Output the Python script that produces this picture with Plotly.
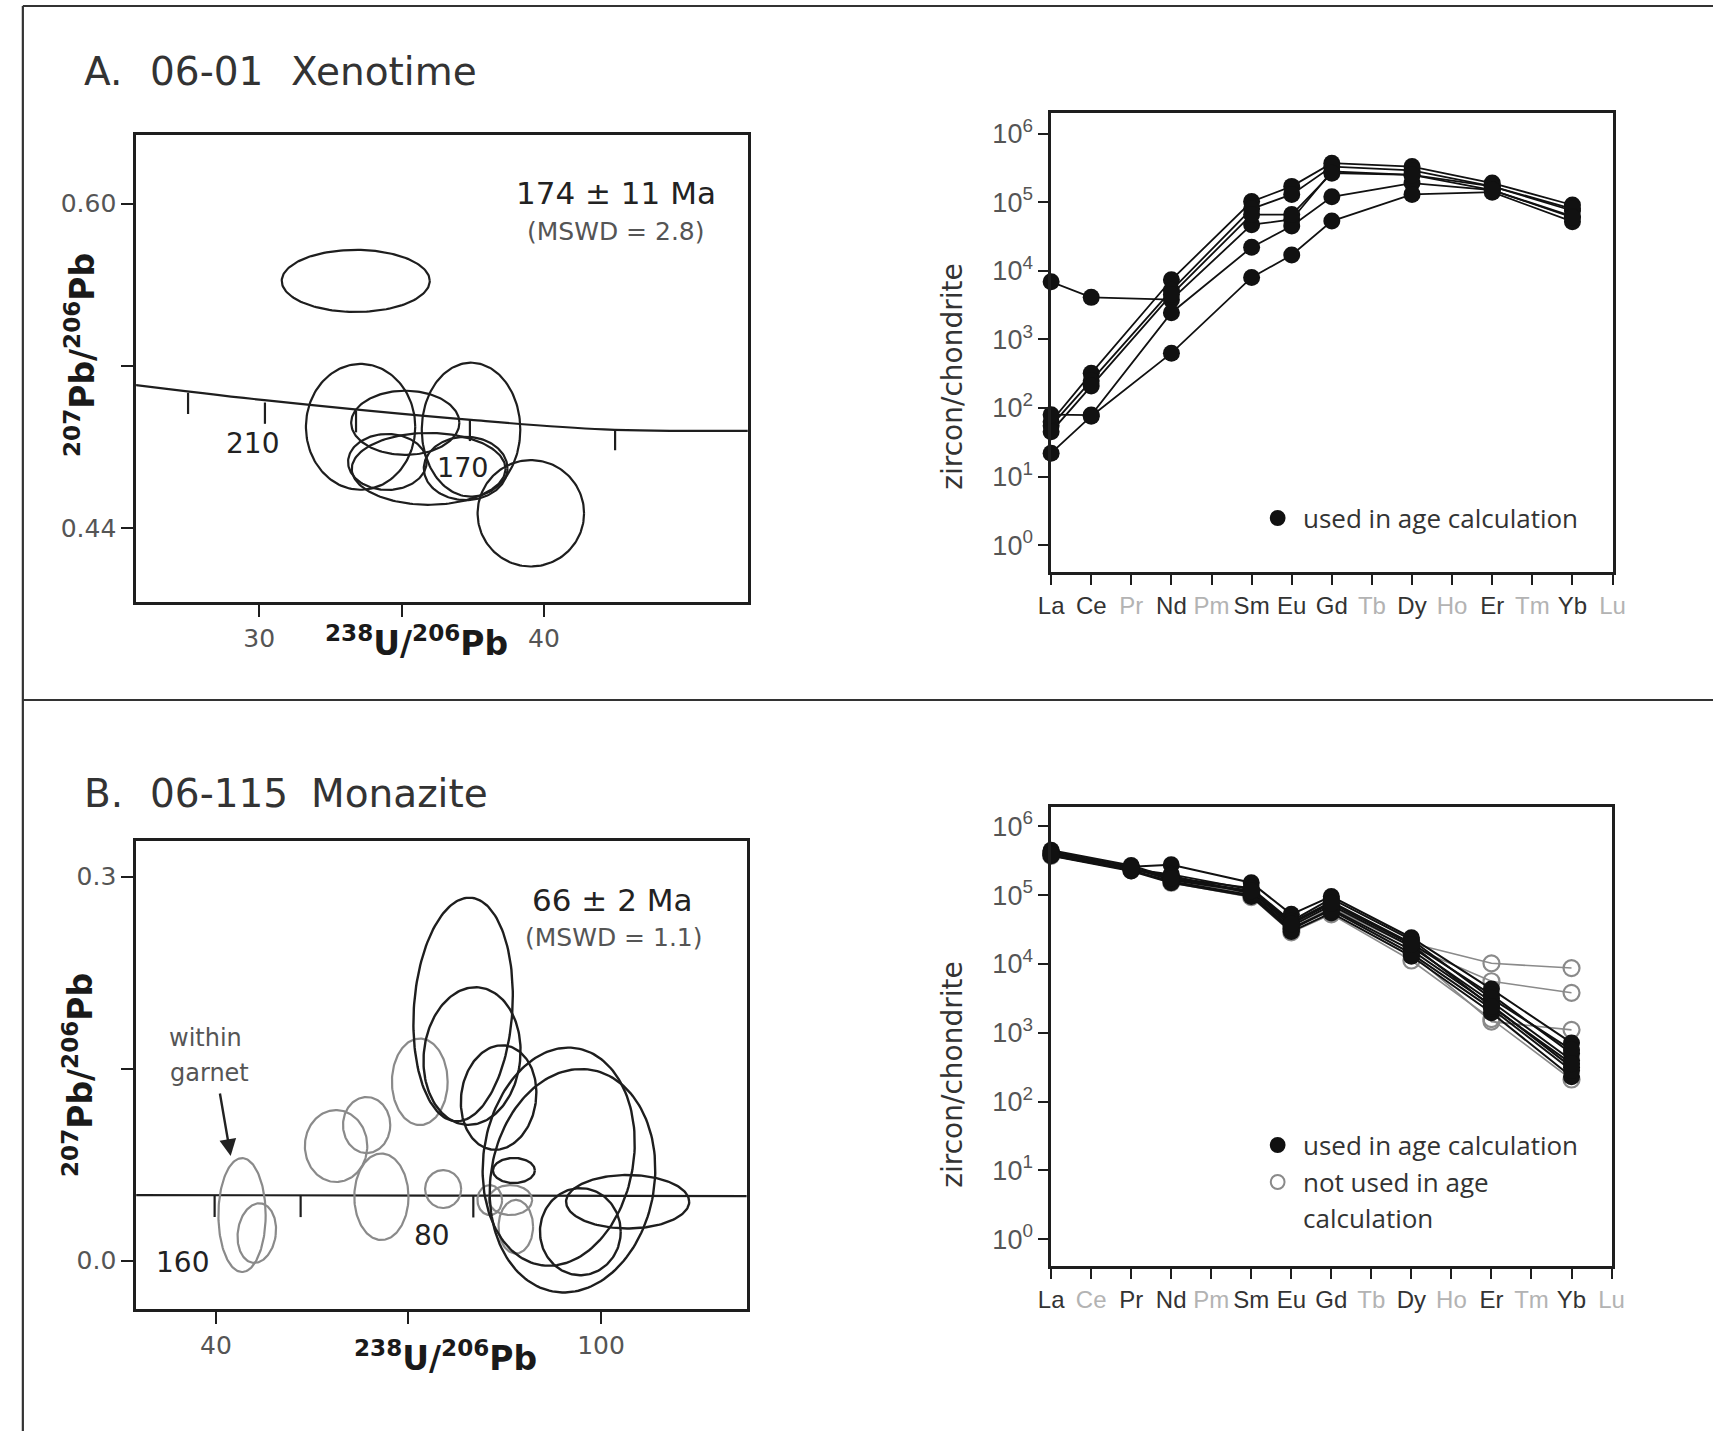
import numpy as np
import plotly.graph_objects as go

W, H = 1726, 1431

# ------------------------------------------------------------------ data
# Panel A: 06-01 xenotime, Tera-Wasserburg diagram
a_curve_x = [25.67, 30.35, 37.44, 42.11, 47.2]
a_curve_y = [0.5106, 0.5029, 0.4934, 0.4888, 0.4880]
a_tick_ages = [230, 210, 190, 170, 150]
a_tick_x = [27.5, 30.2, 33.4, 37.4, 42.5]
a_tick_y = [0.5068, 0.5020, 0.4978, 0.4935, 0.4890]

a_ell_cx = [33.39, 33.56, 35.13, 37.44, 34.50, 35.95, 37.25, 39.54]
a_ell_cy = [0.5619, 0.4900, 0.4920, 0.4886, 0.4727, 0.4693, 0.4695, 0.4474]
a_ell_rx = [2.60, 1.92, 1.90, 1.73, 1.38, 2.70, 1.47, 1.87]
a_ell_ry = [0.0153, 0.0310, 0.0158, 0.0330, 0.0138, 0.0177, 0.0156, 0.0262]
a_ell_ang = [0, 0, 0, 0, 0, 0, 0, 0]

# Panel B: 06-115 monazite
b_curve_x = [27.57, 75.0, 122.7]
b_curve_y = [0.0513, 0.0509, 0.0505]
b_tick_ages = [160, 120, 80]
b_tick_x = [39.8, 53.2, 80.1]
b_tick_y = [0.0512, 0.0511, 0.0508]

# grey = not used in age calculation
b_grey_cx = [44.07, 46.37, 58.72, 63.48, 65.78, 71.76, 75.40, 82.66, 86.72, 85.88]
b_grey_cy = [0.0357, 0.0216, 0.0896, 0.1060, 0.0500, 0.1398, 0.0560, 0.0474, 0.0266, 0.0474]
b_grey_rx = [3.68, 2.96, 4.86, 3.68, 4.22, 4.34, 2.81, 1.92, 2.69, 3.38]
b_grey_ry = [0.0445, 0.0234, 0.0281, 0.0219, 0.0338, 0.0338, 0.0148, 0.0117, 0.0209, 0.0117]
b_grey_ang = [0, -8, 0, 0, 0, 0, 0, 0, 0, 0]
# black = used in age calculation
b_used_cx = [78.51, 79.90, 84.04, 86.42, 93.40, 95.55, 96.77, 104.14]
b_used_cy = [0.1963, 0.1599, 0.1275, 0.0705, 0.0813, 0.0625, 0.0227, 0.0461]
b_used_rx = [7.67, 7.52, 5.83, 3.27, 11.66, 12.74, 6.29, 9.59]
b_used_ry = [0.0875, 0.0539, 0.0410, 0.0098, 0.0859, 0.0879, 0.0340, 0.0209]
b_used_ang = [-4, -6, -8, 0, -10, -10, 0, 0]

# REE patterns (zircon/chondrite)
ree_labels = ['La', 'Ce', 'Pr', 'Nd', 'Pm', 'Sm', 'Eu', 'Gd', 'Tb', 'Dy', 'Ho', 'Er', 'Tm', 'Yb', 'Lu']

a_elems = ['La', 'Ce', 'Nd', 'Sm', 'Eu', 'Gd', 'Dy', 'Er', 'Yb']
a_s1 = [6900, 4100, 3800, 47000, 56000, 280000, 250000, 170000, 75000]
a_s2 = [63, 320, 7400, 102000, 170000, 370000, 330000, 190000, 91000]
a_s3 = [55, 250, 5200, 80000, 130000, 330000, 290000, 170000, 80000]
a_s4 = [80, 79, 2450, 22000, 45000, 120000, 190000, 150000, 62000]
a_s5 = [22, 76, 630, 8000, 17000, 53000, 130000, 140000, 52000]
a_s6 = [45, 210, 4500, 66000, 66000, 265000, 250000, 150000, 60000]

b_elems = ['La', 'Pr', 'Nd', 'Sm', 'Eu', 'Gd', 'Dy', 'Er', 'Yb']
b_u1 = [430000, 257000, 275000, 151000, 52500, 95500, 24000, 4300, 710]
b_u2 = [398000, 240000, 200000, 120000, 39800, 79400, 20000, 3550, 500]
b_u3 = [380000, 229000, 158000, 100000, 31600, 63100, 15800, 2510, 316]
b_u4 = [417000, 251000, 166000, 112000, 35500, 70800, 17800, 2820, 398]
b_u5 = [372000, 224000, 151000, 95500, 29500, 55000, 12900, 1950, 229]
b_u6 = [447000, 269000, 178000, 126000, 41700, 89100, 22400, 3160, 562]
b_u7 = [398000, 234000, 191000, 105000, 33100, 60300, 14100, 2240, 282]
b_u8 = [389000, 245000, 174000, 115000, 38000, 75900, 19100, 2400, 355]
b_n1 = [398000, 240000, 178000, 112000, 35500, 70800, 20000, 10200, 8700]
b_n2 = [380000, 234000, 166000, 105000, 33100, 66100, 17800, 5600, 3800]
b_n3 = [407000, 245000, 158000, 100000, 31600, 60300, 14100, 1450, 1100]
b_n4 = [372000, 229000, 151000, 93300, 28800, 52500, 11200, 1580, 209]

# ------------------------------------------------------------------ layout helpers
def px(x):
    return x / W


def py(y):
    return 1 - y / H


def dom_x(b):
    return [b[0] / W, b[2] / W]


def dom_y(b):
    return [1 - b[3] / H, 1 - b[1] / H]


boxA = (125, 135, 746, 602)
boxB = (125, 841, 745, 1309)
boxAr = (1054, 113, 1624, 572)
boxBr = (1054, 807, 1623, 1266)

rA_x, rA_y = [25.675, 47.16], [0.4037, 0.6338]
rB_x, rB_y = [27.57, 122.7], [-0.0377, 0.3279]

INK = '#1e1e1e'
GREY = '#8a8a8a'
DJ = 'DejaVu Sans'
AR = 'Liberation Sans'
OS = 'Open Sans'

fig = go.Figure()


def ellipse(cx, cy, rx, ry, ang, kx, ky, n=160):
    t = np.linspace(0, 2 * np.pi, n)
    u = rx * kx * np.cos(t)
    v = ry * ky * np.sin(t)
    a = np.deg2rad(ang)
    return cx + (u * np.cos(a) - v * np.sin(a)) / kx, cy + (u * np.sin(a) + v * np.cos(a)) / ky


def add_ellipses(cxs, cys, rxs, rys, angs, box, rx_, ry_, xa, ya, color, width):
    kx = (box[2] - box[0]) / (rx_[1] - rx_[0])
    ky = (box[3] - box[1]) / (ry_[1] - ry_[0])
    xs, ys = [], []
    for cx, cy, a, b, g in zip(cxs, cys, rxs, rys, angs):
        ex, ey = ellipse(cx, cy, a, b, g, kx, ky)
        xs += list(ex) + [None]
        ys += list(ey) + [None]
    fig.add_trace(go.Scatter(x=xs, y=ys, mode='lines', xaxis=xa, yaxis=ya,
                             line=dict(color=color, width=width), hoverinfo='skip',
                             showlegend=False))


def add_curve(cx, cy, tx, ty, tlen, xa, ya):
    fig.add_trace(go.Scatter(x=cx, y=cy, mode='lines', xaxis=xa, yaxis=ya,
                             line=dict(color=INK, width=2.2, shape='spline'),
                             hoverinfo='skip', showlegend=False))
    xs, ys = [], []
    for x, y in zip(tx, ty):
        xs += [x, x, None]
        ys += [y, y - tlen, None]
    fig.add_trace(go.Scatter(x=xs, y=ys, mode='lines', xaxis=xa, yaxis=ya,
                             line=dict(color=INK, width=2.2), hoverinfo='skip',
                             showlegend=False))


# Panel A concordia
add_curve(a_curve_x, a_curve_y, a_tick_x, a_tick_y, 0.0105, 'x', 'y')
add_ellipses(a_ell_cx, a_ell_cy, a_ell_rx, a_ell_ry, a_ell_ang, boxA, rA_x, rA_y,
             'x', 'y', INK, 2.2)

# Panel B concordia
add_curve(b_curve_x, b_curve_y, b_tick_x, b_tick_y, 0.017, 'x3', 'y3')
add_ellipses(b_grey_cx, b_grey_cy, b_grey_rx, b_grey_ry, b_grey_ang, boxB, rB_x, rB_y,
             'x3', 'y3', GREY, 2.2)
add_ellipses(b_used_cx, b_used_cy, b_used_rx, b_used_ry, b_used_ang, boxB, rB_x, rB_y,
             'x3', 'y3', INK, 2.4)

# REE patterns
def idx(elems):
    return [ree_labels.index(e) for e in elems]


for s in [a_s1, a_s2, a_s3, a_s4, a_s5, a_s6]:
    fig.add_trace(go.Scatter(x=idx(a_elems), y=s, mode='lines+markers', xaxis='x2', yaxis='y2',
                             line=dict(color='#111', width=1.8),
                             marker=dict(size=17, color='#111'), cliponaxis=False,
                             hoverinfo='skip', showlegend=False))

for s in [b_n1, b_n2, b_n3, b_n4]:
    fig.add_trace(go.Scatter(x=idx(b_elems), y=s, mode='lines+markers', xaxis='x4', yaxis='y4',
                             line=dict(color=GREY, width=1.6),
                             marker=dict(size=16, symbol='circle-open', color=GREY,
                                         line=dict(width=2.2, color=GREY)),
                             cliponaxis=False, hoverinfo='skip', showlegend=False))
for s in [b_u1, b_u2, b_u3, b_u4, b_u5, b_u6, b_u7, b_u8]:
    fig.add_trace(go.Scatter(x=idx(b_elems), y=s, mode='lines+markers', xaxis='x4', yaxis='y4',
                             line=dict(color='#111', width=2.0),
                             marker=dict(size=17, color='#111'), cliponaxis=False,
                             hoverinfo='skip', showlegend=False))

# ------------------------------------------------------------------ axes
axline = dict(showline=True, mirror=True, linecolor=INK, linewidth=2.6,
              ticks='outside', ticklen=12, tickwidth=2.4, tickcolor=INK,
              showgrid=False, zeroline=False, fixedrange=True)

conc_font = dict(family=DJ, size=25, color='#555')


def ree_ticktext(present):
    out = []
    for lab in ree_labels:
        if lab in present:
            out.append(lab)
        else:
            out.append("<span style='color:#b3b3b3'>%s</span>" % lab)
    return out


ree_y_vals = [1, 10, 100, 1000, 10000, 100000, 1000000]
ree_y_text = ['10<sup>%d</sup>' % i for i in range(7)]

fig.update_layout(
    width=W, height=H, margin=dict(l=0, r=0, t=0, b=0),
    paper_bgcolor='white', plot_bgcolor='white', showlegend=False,
    xaxis=dict(axline, domain=dom_x(boxA), range=rA_x, anchor='y',
               tickvals=[30, 35, 40], ticktext=['30', ' ', '40'], tickfont=conc_font),
    yaxis=dict(axline, domain=dom_y(boxA), range=rA_y, anchor='x',
               tickvals=[0.44, 0.52, 0.60], ticktext=['0.44', ' ', '0.60'], tickfont=conc_font),
    xaxis3=dict(axline, domain=dom_x(boxB), range=rB_x, anchor='y3',
                tickvals=[40, 70, 100], ticktext=['40', ' ', '100'], tickfont=conc_font),
    yaxis3=dict(axline, domain=dom_y(boxB), range=rB_y, anchor='x3',
                tickvals=[0.0, 0.15, 0.3], ticktext=['0.0', ' ', '0.3'], tickfont=conc_font),
    xaxis2=dict(axline, domain=dom_x(boxAr), range=[0, 14], anchor='y2', ticklen=10,
                tickvals=list(range(15)), ticktext=ree_ticktext(a_elems),
                tickfont=dict(family=AR, size=24, color='#333')),
    yaxis2=dict(axline, domain=dom_y(boxAr), type='log', range=[-0.39, 6.30], anchor='x2',
                ticklen=10, tickvals=ree_y_vals, ticktext=ree_y_text,
                tickfont=dict(family=AR, size=27, color='#555')),
    xaxis4=dict(axline, domain=dom_x(boxBr), range=[0, 14], anchor='y4', ticklen=10,
                tickvals=list(range(15)), ticktext=ree_ticktext(b_elems),
                tickfont=dict(family=AR, size=24, color='#333')),
    yaxis4=dict(axline, domain=dom_y(boxBr), type='log', range=[-0.39, 6.28], anchor='x4',
                ticklen=10, tickvals=ree_y_vals, ticktext=ree_y_text,
                tickfont=dict(family=AR, size=27, color='#555')),
)

# ------------------------------------------------------------------ text
ann = []


def text(x, y, s, size, color='#222', family=DJ, xanchor='center', angle=0):
    ann.append(dict(x=px(x), y=py(y), xref='paper', yref='paper', text=s, showarrow=False,
                    xanchor=xanchor, yanchor='middle', textangle=angle,
                    font=dict(family=family, size=size, color=color)))


# panel titles
text(70, 72, 'A.', 39, '#333', xanchor='left')
text(137, 72, '06-01', 39, '#333', xanchor='left')
text(280, 72, 'Xenotime', 39, '#333', xanchor='left')
text(70, 793, 'B.', 39, '#333', xanchor='left')
text(137, 793, '06-115', 39, '#333', xanchor='left')
text(301, 793, 'Monazite', 39, '#333', xanchor='left')

# axis titles (concordia)
xt = '<b><sup>238</sup>U/<sup>206</sup>Pb</b>'
yt = '<b><sup>207</sup>Pb/<sup>206</sup>Pb</b>'
text(410, 641, xt, 33, '#1a1a1a')
text(439, 1356, xt, 33, '#1a1a1a')
text(68, 355, yt, 33, '#1a1a1a', angle=-90)
text(66, 1075, yt, 33, '#1a1a1a', angle=-90)

# ages
text(612, 193, '174 ± 11 Ma', 31, '#222')
text(612, 232, '(MSWD = 2.8)', 25, '#555')
text(608, 900, '66 ± 2 Ma', 31, '#222')
text(610, 937, '(MSWD = 1.1)', 25, '#555')

# concordia age labels
text(243, 443, str(a_tick_ages[1]), 28, '#222')
text(457, 468, str(a_tick_ages[3]), 27, '#222')
text(172, 1262, str(b_tick_ages[0]), 28, '#222')
text(425, 1235, str(b_tick_ages[2]), 28, '#222')

# within garnet
text(195, 1038, 'within', 24, '#555')
text(200, 1073, 'garnet', 24, '#555')
ann.append(dict(x=px(221), y=py(1156), xref='paper', yref='paper', text='',
                showarrow=True, ax=-11, ay=-64, axref='pixel', ayref='pixel',
                arrowhead=2, arrowsize=1.4, arrowwidth=2.4, arrowcolor='#222'))

# REE y titles
text(953, 377, 'zircon/chondrite', 28, '#333', angle=-90)
text(953, 1075, 'zircon/chondrite', 28, '#333', angle=-90)

# REE legends
text(1308, 518, 'used in age calculation', 26, '#333', family=OS, xanchor='left')
text(1308, 1145, 'used in age calculation', 26, '#333', family=OS, xanchor='left')
text(1308, 1182, 'not used in age', 26, '#333', family=OS, xanchor='left')
text(1308, 1218, 'calculation', 26, '#333', family=OS, xanchor='left')

fig.update_layout(annotations=ann)

shapes = []


def circ(cx, cy, r, fill, line):
    shapes.append(dict(type='circle', xref='paper', yref='paper',
                       x0=px(cx - r), x1=px(cx + r), y0=py(cy + r), y1=py(cy - r),
                       fillcolor=fill, line=dict(color=line, width=2)))


circ(1284, 518, 7, '#111', '#111')
circ(1284, 1145, 7, '#111', '#111')
circ(1284, 1182, 7, 'white', GREY)

# outer frame and divider
for (x0, y0, x1, y1) in [(10, 6, W, 6), (10, 6, 10, H), (10, 700, W, 700)]:
    shapes.append(dict(type='line', xref='paper', yref='paper',
                       x0=px(x0), y0=py(y0), x1=px(x1), y1=py(y1),
                       line=dict(color='#333', width=2.2)))

fig.update_layout(shapes=shapes)

fig.write_html('out.html',
               post_script="document.body.style.margin='0';"
                           "document.body.style.overflow='hidden';"
                           "document.documentElement.style.overflow='hidden';")
